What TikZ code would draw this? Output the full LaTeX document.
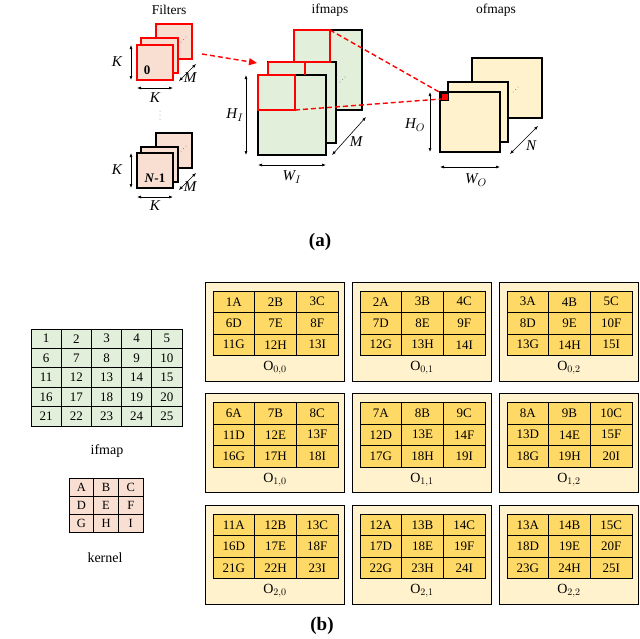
\documentclass[tikz,border=0pt]{standalone}
\usepackage{fontspec}
\setmainfont{Liberation Serif}
\usetikzlibrary{arrows.meta}
\definecolor{pinkf}{HTML}{F9DED2}
\definecolor{greenf}{HTML}{E2EFDA}
\definecolor{creamf}{HTML}{FFF2CC}
\definecolor{goldf}{HTML}{FFD966}
\definecolor{redl}{HTML}{FF0000}
\begin{document}
\begin{tikzpicture}[x=1pt,y=-1pt,
  sq/.style={draw,line width=1.1pt},
  rsq/.style={draw=redl,line width=1.1pt},
  dim/.style={{Latex[length=4pt]}-{Latex[length=4pt]},line width=0.6pt},
  lbl/.style={font=\fontsize{15}{15}\selectfont\itshape},
  ttl/.style={font=\fontsize{13.5}{13.5}\selectfont},
  cell/.style={draw,line width=1pt,minimum width=#1,inner sep=0pt,font=\fontsize{13}{13}\selectfont},
  rdash/.style={redl,dashed,line width=1.4pt,dash pattern=on 5pt off 3pt},
  ddots/.style={fill=gray,radius=0.5pt}]
\useasboundingbox (0,0) rectangle (640,638);
% ---------- (a) filters
\node[ttl] (tf) at (169,10) {Filters};
\node[ttl] (ti) at (330,10) {ifmaps};
\node[ttl] (to) at (496,10) {ofmaps};
% filter 0
\draw[rsq,fill=pinkf] (156,24) rectangle (192,59);
\foreach \t in {0,1,2}{\fill[ddots] ({181+2.5*\t},{42-2.5*\t}) circle;}
\draw[rsq,fill=pinkf] (141,38) rectangle (178,73);
\draw[rsq,fill=pinkf] (137,45) rectangle (173,80);
\node[font=\bfseries\fontsize{13}{13}\selectfont] (z0) at (147,70) {0};
\coordinate (k1a) at (131,45); \coordinate (k1b) at (131,80);
\draw[dim] (k1a) -- (k1b);
\node[lbl] (k1) at (117,62) {K};
\coordinate (k2a) at (137,88); \coordinate (k2b) at (173,88);
\draw[dim] (k2a) -- (k2b);
\node[lbl] (k2) at (155,98) {K};
\coordinate (m1a) at (179,81); \coordinate (m1b) at (196,64);
\draw[dim] (m1a) -- (m1b);
\node[lbl] (m1) at (190,78) {M};
\foreach \t in {0,1,2}{\fill[ddots] (160,{111+4*\t}) circle;}
% filter N-1
\draw[sq,fill=pinkf] (156,133) rectangle (192,168);
\foreach \t in {0,1,2}{\fill[ddots] ({181+2.5*\t},{151-2.5*\t}) circle;}
\draw[sq,fill=pinkf] (141,147) rectangle (178,182);
\draw[sq,fill=pinkf] (137,153) rectangle (173,188);
\node[font=\bfseries\fontsize{13}{13}\selectfont] (zn) at (155,178) {\textit{N}-1};
\coordinate (k3a) at (131,153); \coordinate (k3b) at (131,188);
\draw[dim] (k3a) -- (k3b);
\node[lbl] (k3) at (117,170) {K};
\coordinate (k4a) at (137,197); \coordinate (k4b) at (173,197);
\draw[dim] (k4a) -- (k4b);
\node[lbl] (k4) at (155,206) {K};
\coordinate (m2a) at (179,190); \coordinate (m2b) at (196,173);
\draw[dim] (m2a) -- (m2b);
\node[lbl] (m2) at (190,187) {M};
% ifmaps
\draw[sq,fill=greenf] (294,30) rectangle (362,110);
\foreach \t in {0,1,2}{\fill[ddots] ({340+2.5*\t},{82-2.5*\t}) circle;}
\draw[sq,fill=greenf] (268,62) rectangle (336,143);
\draw[sq,fill=greenf] (258,75) rectangle (326,155);
\draw[rsq] (294,30) rectangle (330,62);
\draw[rsq] (268,62) -- (268,75) (268,62) -- (305,62) -- (305,75);
\draw[rsq] (258,75) rectangle (295,110);
\coordinate (hia) at (246,75); \coordinate (hib) at (246,155);
\draw[dim] (hia) -- (hib);
\node[lbl] (hi) at (235,115) {H$_I$};
\coordinate (wia) at (258,165); \coordinate (wib) at (326,165);
\draw[dim] (wia) -- (wib);
\node[lbl] (wi) at (292,177) {W$_I$};
\coordinate (mia) at (332,155); \coordinate (mib) at (366,117);
\draw[dim] (mia) -- (mib);
\node[lbl] (mi) at (356,142) {M};
% ofmaps
\draw[sq,fill=creamf] (472,58) rectangle (542,118);
\foreach \t in {0,1,2}{\fill[ddots] ({513+2.5*\t},{92-2.5*\t}) circle;}
\draw[sq,fill=creamf] (448,82) rectangle (508,142);
\draw[sq,fill=creamf] (440,92) rectangle (500,152);
\draw[line width=0.8pt,fill=redl] (441,93) rectangle (448,100);
\coordinate (hoa) at (430,92); \coordinate (hob) at (430,152);
\draw[dim] (hoa) -- (hob);
\node[lbl] (ho) at (415,125) {H$_O$};
\coordinate (woa) at (440,167); \coordinate (wob) at (500,167);
\draw[dim] (woa) -- (wob);
\node[lbl] (wo) at (476,180) {W$_O$};
\coordinate (noa) at (510,154); \coordinate (nob) at (538,126);
\draw[dim] (noa) -- (nob);
\node[lbl] (no) at (531,146) {N};
% red dashed
\coordinate (ra) at (202,54); \coordinate (rb) at (257,63);
\draw[rdash,-{Triangle[length=8pt,width=7pt]}] (ra) -- (rb);
\coordinate (la) at (330,30); \coordinate (lb) at (441,93);
\coordinate (lc) at (295,110); \coordinate (ld) at (441,99);
\draw[rdash] (la) -- (lb); \draw[rdash] (lc) -- (ld);
\node[font=\bfseries\fontsize{19}{19}\selectfont] (ca) at (320,242) {(a)};
% ---------- (b)
\foreach \r in {0,...,4}{\foreach \c in {0,...,4}{
  \pgfmathtruncatemacro\v{5*\r+\c+1}
  \node[cell=30.2pt,minimum height=19.4pt,fill=greenf] (if\r\c) at ({31+15.1+30.2*\c},{329+9.7+19.4*\r}) {\v};}}
\node[font=\fontsize{14}{14}\selectfont] (ifl) at (107,451) {ifmap};
\foreach \l [count=\n from 0] in {A,B,C,D,E,F,G,H,I}{
  \pgfmathtruncatemacro\i{div(\n,3)}\pgfmathtruncatemacro\j{mod(\n,3)}
  \node[cell=24.7pt,minimum height=18pt,fill=pinkf,font=\fontsize{12.5}{12.5}\selectfont] (k\n) at ({69+12.35+24.7*\j},{478+9+18*\i}) {\l};}
\node[font=\fontsize{14}{14}\selectfont] (kl) at (105,558) {kernel};
\foreach \r in {0,1,2}{\foreach \c in {0,1,2}{
  \pgfmathsetmacro\px{205+147*\c}\pgfmathsetmacro\py{282+111.5*\r}
  \draw[line width=1pt,fill=creamf] (\px,\py) rectangle ({\px+139},{\py+99});
  \node[font=\fontsize{14}{14}\selectfont] (ol\r\c) at ({\px+70},{\py+86}) {O$_{\r,\c}$};
  \foreach \l [count=\n from 0] in {A,B,C,D,E,F,G,H,I}{
    \pgfmathtruncatemacro\i{div(\n,3)}\pgfmathtruncatemacro\j{mod(\n,3)}
    \pgfmathtruncatemacro\v{5*(\r+\i)+\c+\j+1}
    \node[cell=41.7pt,minimum height=21.5pt,fill=goldf] (p\r\c\n) at ({\px+8+20.85+41.7*\j},{\py+9+10.75+21.5*\i}) {\v\l};}
}}
\node[font=\bfseries\fontsize{19}{19}\selectfont] (cb) at (322,626) {(b)};
\end{tikzpicture}
\end{document}
